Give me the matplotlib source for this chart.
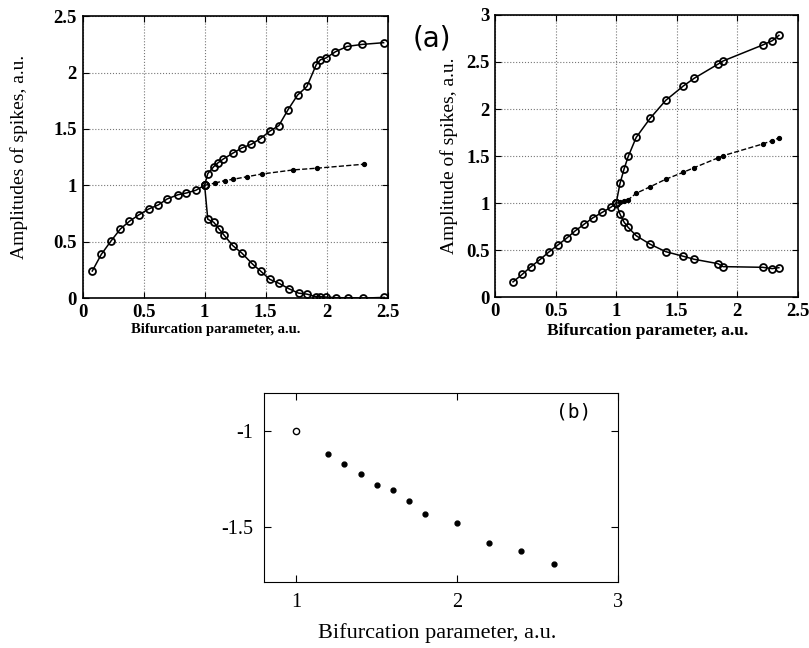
import matplotlib.pyplot as plt

# left panel (a): amplitudes vs bifurcation parameter
left_low_x = [0.08, 0.154, 0.231, 0.31, 0.384, 0.46, 0.542, 0.62, 0.693, 0.783, 0.851, 0.928, 1.0]
left_low_y = [0.24, 0.388, 0.503, 0.613, 0.681, 0.737, 0.79, 0.826, 0.879, 0.917, 0.932, 0.956, 1.0]

left_up_x = [1.0, 1.026, 1.075, 1.11, 1.154, 1.231, 1.307, 1.384, 1.458, 1.534, 1.608,
             1.684, 1.761, 1.838, 1.914, 1.949, 1.993, 2.072, 2.168, 2.291, 2.466]
left_up_y = [1.0, 1.104, 1.166, 1.2, 1.234, 1.285, 1.332, 1.365, 1.415, 1.48, 1.53,
             1.672, 1.8, 1.877, 2.069, 2.114, 2.129, 2.185, 2.232, 2.25, 2.265]

left_dn_x = [1.0, 1.026, 1.075, 1.116, 1.16, 1.231, 1.307, 1.392, 1.458, 1.534, 1.611,
             1.69, 1.769, 1.838, 1.914, 1.947, 1.993, 2.078, 2.176, 2.297, 2.471]
left_dn_y = [1.0, 0.699, 0.672, 0.616, 0.557, 0.465, 0.397, 0.302, 0.24, 0.166, 0.13,
             0.083, 0.044, 0.035, 0.012, 0.012, 0.009, 0.003, 0.003, 0.0, 0.006]

left_mid_x = [1.0, 1.085, 1.165, 1.236, 1.35, 1.466, 1.728, 1.92, 2.302]
left_mid_y = [1.0, 1.02, 1.042, 1.054, 1.077, 1.10, 1.137, 1.152, 1.187]

# right panel (a)
right_low_x = [0.148, 0.225, 0.294, 0.37, 0.442, 0.519, 0.59, 0.664, 0.738, 0.81, 0.886, 0.957, 1.0]
right_low_y = [0.165, 0.246, 0.324, 0.401, 0.48, 0.557, 0.628, 0.709, 0.78, 0.847, 0.904, 0.958, 1.0]

right_x = [1.0, 1.032, 1.066, 1.1, 1.166, 1.281, 1.41, 1.555, 1.645, 1.84, 1.884, 2.21, 2.29, 2.345]
right_up_y = [1.0, 1.21, 1.366, 1.497, 1.70, 1.902, 2.093, 2.245, 2.327, 2.476, 2.511, 2.68, 2.726, 2.783]
right_dn_y = [1.0, 0.885, 0.798, 0.743, 0.655, 0.565, 0.486, 0.437, 0.405, 0.359, 0.327, 0.32, 0.306, 0.316]
right_mid_y = [1.0, 1.01, 1.021, 1.038, 1.106, 1.175, 1.255, 1.329, 1.378, 1.481, 1.505, 1.629, 1.665, 1.693]

# panel (b)
b_open_x = [1.0]
b_open_y = [-1.0]
b_x = [1.2, 1.3, 1.4, 1.5, 1.6, 1.7, 1.8, 2.0, 2.2, 2.4, 2.6]
b_y = [-1.118, -1.17, -1.223, -1.284, -1.31, -1.367, -1.435, -1.479, -1.586, -1.626, -1.695]

serif = ['Liberation Serif', 'DejaVu Serif']
plt.rcParams['font.family'] = serif

fig = plt.figure(figsize=(8.09, 6.48), dpi=100)

ax1 = fig.add_axes([0.102, 0.540, 0.3773, 0.435])
ax2 = fig.add_axes([0.612, 0.541, 0.374, 0.436])
ax3 = fig.add_axes([0.3263, 0.1019, 0.4376, 0.2917])

circ = dict(marker='o', markersize=5, markerfacecolor='none', markeredgecolor='black',
            markeredgewidth=1.3, color='black', linewidth=1.1)
dots = dict(marker='o', markersize=2.8, color='black', linestyle='--', linewidth=1.0)

ax1.plot(left_low_x, left_low_y, **circ)
ax1.plot(left_up_x, left_up_y, **circ)
ax1.plot(left_dn_x, left_dn_y, **circ)
ax1.plot(left_mid_x[1:], left_mid_y[1:], **dots)
ax1.plot(left_mid_x[:2], left_mid_y[:2], color='black', linestyle='--', linewidth=1.0)
ax1.set_xlim(0, 2.5)
ax1.set_ylim(0, 2.5)
ax1.set_xticks([0, 0.5, 1, 1.5, 2, 2.5])
ax1.set_xticklabels(['0', '0.5', '1', '1.5', '2', '2.5'])
ax1.set_yticks([0, 0.5, 1, 1.5, 2, 2.5])
ax1.set_yticklabels(['0', '0.5', '1', '1.5', '2', '2.5'])
ax1.set_ylabel('Amplitudes of spikes, a.u.', fontsize=14)
ax1.yaxis.set_label_coords(-0.179, 0.5)
ax1.set_xlabel('Bifurcation parameter, a.u.', fontsize=10.5, fontweight='bold')
ax1.xaxis.set_label_coords(0.435, -0.088)

ax2.plot(right_low_x, right_low_y, **circ)
ax2.plot(right_x, right_up_y, **circ)
ax2.plot(right_x, right_dn_y, **circ)
ax2.plot(right_x[1:], right_mid_y[1:], **dots)
ax2.plot(right_x[:2], right_mid_y[:2], color='black', linestyle='--', linewidth=1.0)
ax2.set_xlim(0, 2.5)
ax2.set_ylim(0, 3)
ax2.set_xticks([0, 0.5, 1, 1.5, 2, 2.5])
ax2.set_xticklabels(['0', '0.5', '1', '1.5', '2', '2.5'])
ax2.set_yticks([0, 0.5, 1, 1.5, 2, 2.5, 3])
ax2.set_yticklabels(['0', '0.5', '1', '1.5', '2', '2.5', '3'])
ax2.set_ylabel('Amplitude of spikes, a.u.', fontsize=14)
ax2.yaxis.set_label_coords(-0.122, 0.5)
ax2.set_xlabel('Bifurcation parameter, a.u.', fontsize=12.5, fontweight='bold')
ax2.xaxis.set_label_coords(0.505, -0.092)

for ax in (ax1, ax2):
    ax.grid(True, linestyle=':', color='#777777', linewidth=0.8)
    ax.tick_params(direction='in', top=True, right=True, length=4, labelsize=13.5, pad=4)
    for lab in ax.get_xticklabels() + ax.get_yticklabels():
        lab.set_fontweight('bold')
    for s in ax.spines.values():
        s.set_linewidth(1.2)

fig.text(0.534, 0.94, '(a)', fontsize=20, family=['DejaVu Sans'], ha='center', va='center')

ax3.plot(b_open_x, b_open_y, linestyle='none', marker='o', markersize=4.5,
         markerfacecolor='none', markeredgecolor='black', markeredgewidth=1.0)
ax3.plot(b_x, b_y, linestyle='none', marker='o', markersize=3.5, color='black')
ax3.set_xlim(0.8, 3.0)
ax3.set_ylim(-1.79, -0.8)
ax3.set_xticks([1, 2, 3])
ax3.set_xticklabels(['1', '2', '3'])
ax3.set_yticks([-1, -1.5])
ax3.set_yticklabels(['-1', '-1.5'])
ax3.tick_params(direction='in', top=True, right=True, length=5, labelsize=14.5, pad=8)
ax3.set_xlabel('Bifurcation parameter, a.u.', fontsize=16)
ax3.xaxis.set_label_coords(0.488, -0.215)
ax3.text(0.875, 0.9, '(b)', transform=ax3.transAxes, fontsize=14,
         family=['DejaVu Sans Mono'], ha='center', va='center')

fig.savefig('out.png', dpi=100)
